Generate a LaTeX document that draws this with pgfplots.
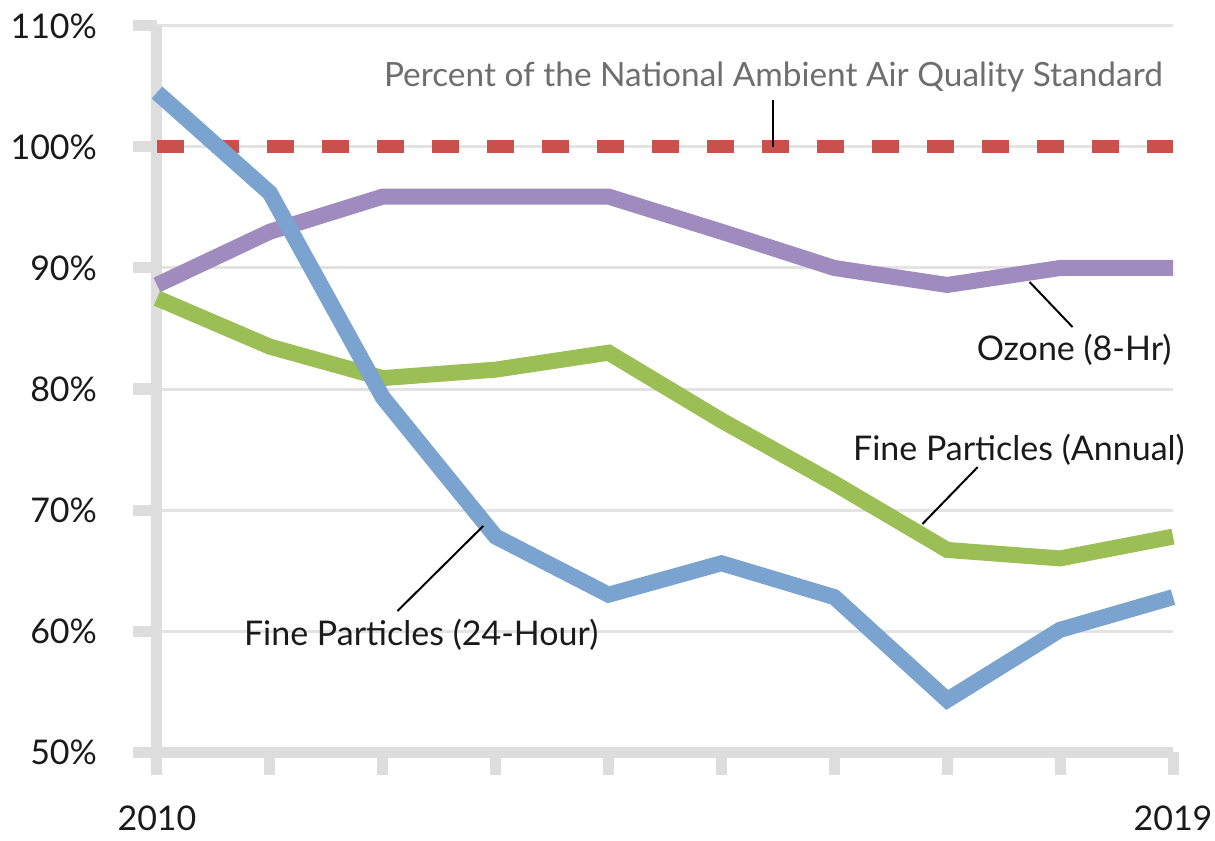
\documentclass[border=0pt]{standalone}
\usepackage{pgfplots}
\pgfplotsset{compat=1.18}
\usepackage{fontspec}
\setmainfont{Lato}
\definecolor{cblue}{HTML}{7AA3CF}
\definecolor{cpurple}{HTML}{A08BBE}
\definecolor{cgreen}{HTML}{9BBE55}
\definecolor{cred}{HTML}{C9504B}
\definecolor{axgray}{HTML}{DCDDDC}
\definecolor{grgray}{HTML}{E3E3E3}
\definecolor{txgray}{HTML}{6E6E6E}
\definecolor{txblack}{HTML}{1A1A1A}
\begin{document}
\begin{tikzpicture}
\begin{axis}[
  scale only axis, width=508pt, height=363pt,
  xmin=2010, xmax=2019, ymin=50, ymax=110,
  clip=false,
  axis x line*=bottom, axis y line*=left,
  axis line style={-, line width=5.5pt, color=axgray},
  xtick={2010,2011,...,2019},
  xticklabels={2010,,,,,,,,,2019},
  ytick={50,60,...,110},
  yticklabel={\pgfmathprintnumber{\tick}\%},
  tick align=outside, major tick length=11.5pt,
  ytick align=outside, ytick pos=left, xtick align=outside, xtick pos=bottom,
  tick style={line width=5.5pt, color=axgray},
  ymajorgrids, grid style={line width=1.5pt, color=grgray},
  /pgf/number format/assume math mode=true,
  tick label style={font=\fontsize{17pt}{20pt}\selectfont, color=txblack},
  yticklabel style={anchor=east, xshift=-15pt},
  xticklabel style={anchor=north, yshift=-12pt},
  every axis plot/.append style={line width=8pt, line cap=butt, line join=miter},
]
\addplot[cred, line width=6.5pt, dash pattern=on 13.5pt off 14pt] coordinates {(2010,100) (2019,100)};
\addplot[cpurple] coordinates {(2010,88.6) (2011,93.0) (2012,95.9) (2013,95.9) (2014,95.9) (2015,93.0) (2016,90.0) (2017,88.6) (2018,90.0) (2019,90.0)};
\addplot[cgreen] coordinates {(2010,87.5) (2011,83.5) (2012,80.9) (2013,81.6) (2014,83.0) (2015,77.4) (2016,72.2) (2017,66.7) (2018,66.0) (2019,67.8)};
\addplot[cblue] coordinates {(2010,104.5) (2011,96.2) (2012,79.3) (2013,67.8) (2014,63.0) (2015,65.6) (2016,62.8) (2017,54.3) (2018,60.1) (2019,62.8)};
% annotations
\draw[black, line width=1pt] (axis cs:2015.46,103.9) -- (axis cs:2015.46,100);
\node[txgray, font=\fontsize{16.7pt}{19pt}\selectfont] at (axis cs:2015.46,105.8) {Percent of the National Ambient Air Quality Standard};
\draw[black, line width=1pt] (axis cs:2017.73,88.84) -- (axis cs:2018.11,85.12);
\node[txblack, anchor=east, inner sep=0pt, font=\fontsize{17pt}{20pt}\selectfont] at (axis cs:2018.99,83.22) {Ozone (8-Hr)};
\draw[black, line width=1pt] (axis cs:2017.27,73.55) -- (axis cs:2016.78,68.84);
\node[txblack, font=\fontsize{17pt}{20pt}\selectfont] at (axis cs:2017.635,74.96) {Fine Particles (Annual)};
\draw[black, line width=1pt] (axis cs:2012.89,68.68) -- (axis cs:2012.13,61.65);
\node[txblack, font=\fontsize{17pt}{20pt}\selectfont] at (axis cs:2012.34,59.67) {Fine Particles (24-Hour)};
\coordinate (bl) at (rel axis cs:-0.15453,-0.12121);
\coordinate (tr) at (rel axis cs:1.04134,1.03581);
\coordinate (y50) at (axis cs:2010,50);
\coordinate (y60) at (axis cs:2010,60);
\coordinate (y70) at (axis cs:2010,70);
\coordinate (y80) at (axis cs:2010,80);
\coordinate (y90) at (axis cs:2010,90);
\coordinate (y100) at (axis cs:2010,100);
\coordinate (y110) at (axis cs:2010,110);
\end{axis}
\foreach \c in {y50,y60,y70,y80,y90,y100,y110} {
  \draw[axgray, line width=5.5pt] (\c) -- ++(-12pt,0);
}
\pgfresetboundingbox
\path (bl) rectangle (tr);
\end{tikzpicture}
\end{document}
